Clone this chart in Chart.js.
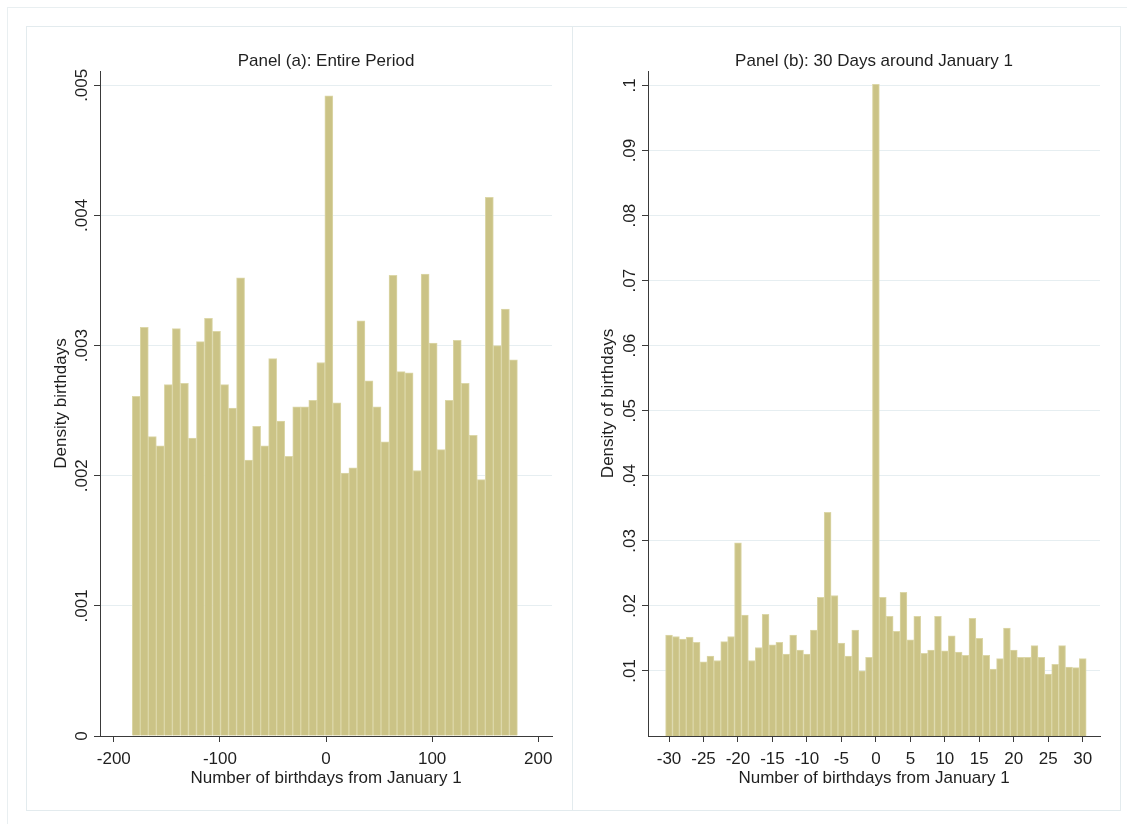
<!DOCTYPE html>
<html>
<head>
<meta charset="utf-8">
<title>Birthdays around January 1</title>
<script src="https://cdn.jsdelivr.net/npm/chart.js@4.4.1/dist/chart.umd.min.js"></script>
<style>
  html, body { margin: 0; padding: 0; background: #fff; width: 1127px; height: 824px; overflow: hidden; }
  .frame { position: absolute; left: 7px; top: 7px; width: 1150px; height: 850px; border: 1px solid #e9eff1; box-sizing: border-box; }
  .panel { position: absolute; top: 26px; height: 785px; border: 1px solid #e3ebee; box-sizing: border-box; background: #fff; }
  #boxA { left: 26px; width: 547px; }
  #boxB { left: 572px; width: 549px; }
  canvas { position: absolute; }
  #chartA { left: 27px; top: 27px; }
  #chartB { left: 573px; top: 27px; }
</style>
</head>
<body>
<div class="frame"></div>
<div class="panel" id="boxA"></div>
<div class="panel" id="boxB"></div>
<canvas id="chartA" width="545" height="782"></canvas>
<canvas id="chartB" width="547" height="782"></canvas>
<script>
// Panel (a): 48 histogram bins over the whole year (bin midpoints, in days from January 1)
const binMidA = [
  -178.82, -171.26, -163.69, -156.13, -148.57, -141.01, -133.44, -125.88,
  -118.32, -110.76, -103.19, -95.63, -88.07, -80.51, -72.94, -65.38,
  -57.82, -50.26, -42.69, -35.13, -27.57, -20.01, -12.44, -4.88,
  2.68, 10.24, 17.81, 25.37, 32.93, 40.49, 48.06, 55.62,
  63.18, 70.74, 78.31, 85.87, 93.43, 100.99, 108.56, 116.12,
  123.68, 131.24, 138.81, 146.37, 153.93, 161.49, 169.06, 176.62
];
const densityA = [
  .00261, .00314, .00230, .00223, .00270, .00313, .00271, .00229,
  .00303, .00321, .00311, .00270, .00252, .00352, .00212, .00238,
  .00223, .00290, .00242, .00215, .00253, .00253, .00258, .00287,
  .00492, .00256, .00202, .00206, .00319, .00273, .00253, .00226,
  .00354, .00280, .00279, .00204, .00355, .00302, .00220, .00258,
  .00304, .00271, .00231, .00197, .00414, .00300, .00328, .00289
];
const xTicksA = [-200, -100, 0, 100, 200];
const yTicksA = [0, .001, .002, .003, .004, .005];
const yTickLabelsA = ['0', '.001', '.002', '.003', '.004', '.005'];

// Panel (b): one bin per day, 30 days either side of January 1
const daysB = [
  -30, -29, -28, -27, -26, -25, -24, -23, -22, -21, -20, -19, -18, -17, -16, -15,
  -14, -13, -12, -11, -10, -9, -8, -7, -6, -5, -4, -3, -2, -1, 0,
  1, 2, 3, 4, 5, 6, 7, 8, 9, 10, 11, 12, 13, 14, 15,
  16, 17, 18, 19, 20, 21, 22, 23, 24, 25, 26, 27, 28, 29, 30
];
const densityB = [
  .0155, .0153, .0149, .0152, .0144, .0114, .0123, .0116, .0145, .0153, .0297, .0186, .0116, .0136, .0187, .0140,
  .0144, .0126, .0155, .0132, .0126, .0163, .0213, .0344, .0216, .0143, .0123, .0163, .0100, .0121, .1002,
  .0213, .0184, .0161, .0221, .0148, .0184, .0127, .0132, .0184, .0131, .0154, .0129, .0124, .0181, .0150,
  .0124, .0103, .0119, .0166, .0132, .0121, .0121, .0139, .0121, .0095, .0110, .0139, .0106, .0105, .0119
];
const xTicksB = [-30, -25, -20, -15, -10, -5, 0, 5, 10, 15, 20, 25, 30];
const yTicksB = [.01, .02, .03, .04, .05, .06, .07, .08, .09, .1];
const yTickLabelsB = ['.01', '.02', '.03', '.04', '.05', '.06', '.07', '.08', '.09', '.1'];

const xTitle = 'Number of birthdays from January 1';

const FONT = "'Liberation Sans', Arial, Helvetica, sans-serif";
const INK = '#1f1f1f';
const AXIS = '#3a3a3a';
const GRID = '#e6eef1';
const BAR_FILL = '#cbc386';
const BAR_EDGE = '#dcd7a8';

// Titles, rotated y tick labels and axis titles, placed from the scales
const stataText = {
  id: 'stataText',
  afterDraw(chart, args, o) {
    const { ctx, chartArea, scales } = chart;
    const yScale = scales.y;
    const cx = (chartArea.left + chartArea.right) / 2;
    const cy = (chartArea.top + chartArea.bottom) / 2;
    ctx.save();
    ctx.fillStyle = INK;
    ctx.font = '17px ' + FONT;
    ctx.textAlign = 'center';
    ctx.textBaseline = 'alphabetic';
    ctx.fillText(o.title, cx, chartArea.top - 5);
    ctx.fillText(o.xTitle, cx, chartArea.bottom + 47);

    // y tick labels, reading bottom to top
    o.yTicks.forEach((v, i) => {
      const py = yScale.getPixelForValue(v);
      ctx.save();
      ctx.translate(chartArea.left - 13, py);
      ctx.rotate(-Math.PI / 2);
      ctx.fillText(o.yTickLabels[i], 0, 0);
      ctx.restore();
    });

    ctx.save();
    ctx.translate(chartArea.left - o.yTitleGap, cy);
    ctx.rotate(-Math.PI / 2);
    ctx.fillText(o.yTitle, 0, 0);
    ctx.restore();
    ctx.restore();
  }
};

function histogram(canvasId, cfg) {
  const data = cfg.mids.map((m, i) => ({ x: m, y: cfg.values[i] }));
  return new Chart(document.getElementById(canvasId), {
    type: 'bar',
    data: {
      datasets: [{
        data,
        backgroundColor: BAR_FILL,
        borderColor: BAR_EDGE,
        borderWidth: 1,
        borderSkipped: 'start',
        categoryPercentage: 1,
        barPercentage: 1
      }]
    },
    options: {
      responsive: false,
      devicePixelRatio: 1,
      animation: false,
      events: [],
      layout: { padding: { top: 44, right: cfg.padRight, bottom: 0, left: 0 } },
      plugins: {
        legend: { display: false },
        tooltip: { enabled: false },
        title: { display: false },
        stataText: {
          title: cfg.title,
          xTitle: xTitle,
          yTitle: cfg.yTitle,
          yTitleGap: cfg.yTitleGap,
          yTicks: cfg.yTicks,
          yTickLabels: cfg.yTickLabels
        }
      },
      scales: {
        x: {
          type: 'linear',
          min: cfg.xMin,
          max: cfg.xMax,
          offset: false,
          afterBuildTicks: (s) => { s.ticks = cfg.xTicks.map(v => ({ value: v })); },
          afterFit: (s) => { s.height = 73; },
          grid: { drawOnChartArea: false, drawTicks: true, tickLength: 6, tickColor: AXIS, offset: false },
          border: { display: true, color: AXIS, width: 1 },
          ticks: {
            color: INK,
            font: { family: FONT, size: 17 },
            padding: 7,
            maxRotation: 0,
            autoSkip: false,
            callback: (v) => String(v)
          }
        },
        y: {
          type: 'linear',
          min: 0,
          max: cfg.yMax,
          afterBuildTicks: (s) => { s.ticks = cfg.yTicks.map(v => ({ value: v })); },
          afterFit: (s) => { s.width = cfg.yWidth; },
          grid: {
            color: (c) => (c.tick && c.tick.value === 0 ? 'rgba(0,0,0,0)' : GRID),
            lineWidth: 1,
            drawTicks: true,
            tickLength: 6,
            tickColor: AXIS
          },
          border: { display: true, color: AXIS, width: 1 },
          ticks: { display: false }
        }
      }
    },
    plugins: [stataText]
  });
}

histogram('chartA', {
  mids: binMidA,
  values: densityA,
  title: 'Panel (a): Entire Period',
  yTitle: 'Density birthdays',
  yTitleGap: 34,
  xMin: -213, xMax: 213,
  yMax: 0.00511,
  xTicks: xTicksA,
  yTicks: yTicksA,
  yTickLabels: yTickLabelsA,
  yWidth: 73,
  padRight: 20
});

histogram('chartB', {
  mids: daysB,
  values: densityB,
  title: 'Panel (b): 30 Days around January 1',
  yTitle: 'Density of birthdays',
  yTitleGap: 35,
  xMin: -33.05, xMax: 32.5,
  yMax: 0.10223,
  xTicks: xTicksB,
  yTicks: yTicksB,
  yTickLabels: yTickLabelsB,
  yWidth: 75,
  padRight: 20
});
</script>
</body>
</html>
